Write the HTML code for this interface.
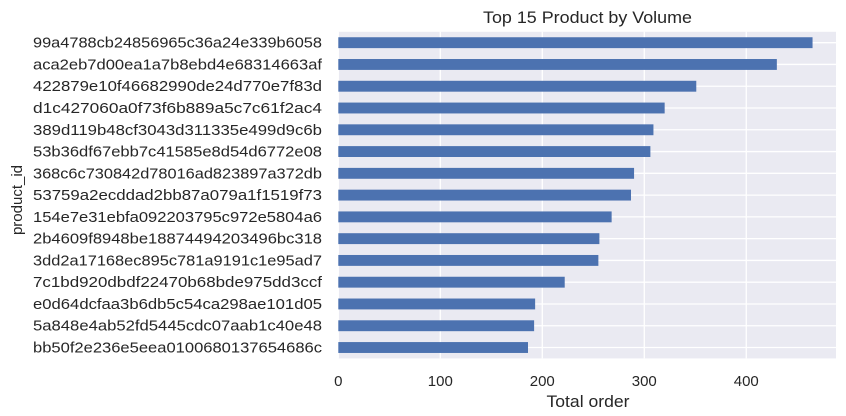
<!DOCTYPE html>
<html><head><meta charset="utf-8"><style>
html,body{margin:0;padding:0;background:#fff;}
svg{display:block;font-family:"Liberation Sans",sans-serif;}
</style></head><body>
<svg id="chart" width="846" height="416"></svg>
<script>
const categories=["99a4788cb24856965c36a24e339b6058","aca2eb7d00ea1a7b8ebd4e68314663af","422879e10f46682990de24d770e7f83d","d1c427060a0f73f6b889a5c7c61f2ac4","389d119b48cf3043d311335e499d9c6b","53b36df67ebb7c41585e8d54d6772e08","368c6c730842d78016ad823897a372db","53759a2ecddad2bb87a079a1f1519f73","154e7e31ebfa092203795c972e5804a6","2b4609f8948be18874494203496bc318","3dd2a17168ec895c781a9191c1e95ad7","7c1bd920dbdf22470b68bde975dd3ccf","e0d64dcfaa3b6db5c54ca298ae101d05","5a848e4ab52fd5445cdc07aab1c40e48","bb50f2e236e5eea0100680137654686c"];
const values=[465,430,351,320,309,306,290,287,268,256,255,222,193,192,186];
const xTicks=[0,100,200,300,400];
const xTickLabels=["0","100","200","300","400"];
const NS="http://www.w3.org/2000/svg";
const svg=document.getElementById('chart');
const L=338.3,R=836,T=31.8,B=358.4,xMax=488;
const x=v=>L+v/xMax*(R-L);
const step=(B-T)/categories.length;
const yc=i=>T+step*(i+0.5);
function mk(tag,attrs,parent){const e=document.createElementNS(NS,tag);for(const k in attrs)e.setAttribute(k,attrs[k]);(parent||svg).appendChild(e);return e;}
const bg=mk('rect',{x:L,y:T,width:R-L,height:B-T,fill:'#eaeaf2'});


xTicks.forEach((t,i)=>{
  const g=mk('line',{x1:x(t),x2:x(t),y1:T,y2:B,stroke:'#fff','stroke-width':1.3});
  
  
  const tl=mk('text',{x:x(t),y:386,'text-anchor':'middle','font-size':15,fill:'#262626'});
  tl.textContent=xTickLabels[i];
  
  
});
categories.forEach((c,i)=>{
  const gl=mk('line',{x1:L,x2:R,y1:yc(i),y2:yc(i),stroke:'#fff','stroke-width':1.3});
  
  
});
categories.forEach((c,i)=>{
  const h=step*0.5;
  const b=mk('rect',{x:L,y:yc(i)-h/2,width:x(values[i])-L,height:h,fill:'#4c72b0'});
  
  
  const tl=mk('text',{x:322,y:yc(i)+5,'text-anchor':'end','font-size':15,fill:'#262626',textLength:289,lengthAdjust:'spacingAndGlyphs'});
  tl.textContent=c;
  
  
});
const title=mk('text',{x:587.5,y:23,'text-anchor':'middle','font-size':17,fill:'#262626',textLength:209,lengthAdjust:'spacingAndGlyphs'});
title.textContent='Top 15 Product by Volume';


const xt=mk('text',{x:588,y:407,'text-anchor':'middle','font-size':16.5,fill:'#262626',textLength:83,lengthAdjust:'spacingAndGlyphs'});
xt.textContent='Total order';


const yt=mk('text',{x:22,y:200,'text-anchor':'middle','font-size':15,fill:'#262626',transform:'rotate(-90 22 200)'});
yt.textContent='product_id';


</script>
</body></html>
